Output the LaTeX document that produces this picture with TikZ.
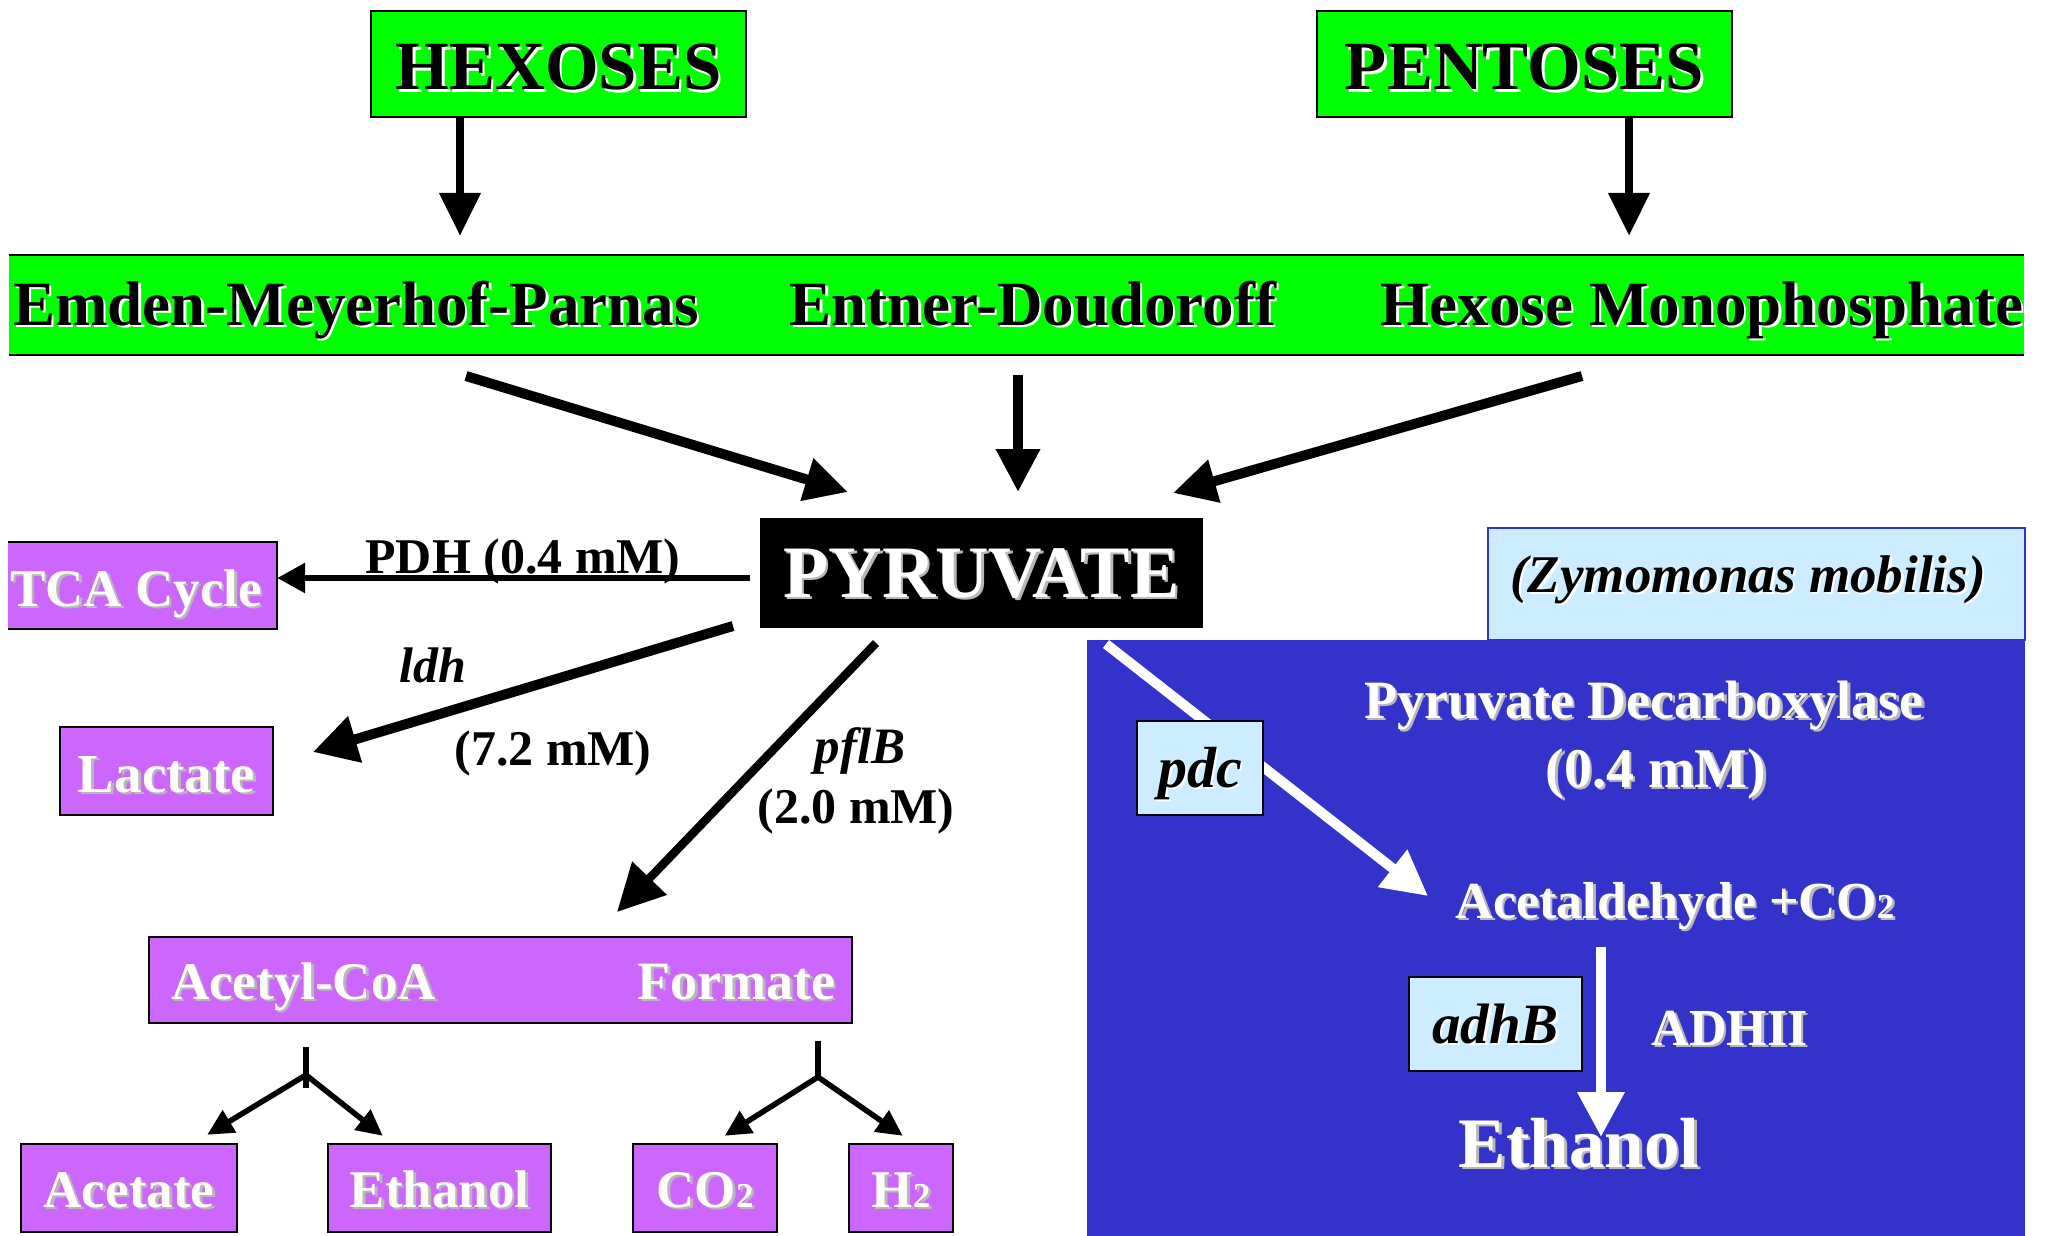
\documentclass[tikz,border=0pt]{standalone}
\usepackage{fontspec}
\setmainfont{Liberation Serif}
\usetikzlibrary{arrows.meta}
\definecolor{grn}{HTML}{00FF00}
\definecolor{pur}{HTML}{CC66FF}
\definecolor{zblue}{HTML}{3333CC}
\definecolor{lblue}{HTML}{CCECFF}
\definecolor{shg}{HTML}{B8B8B8}
\newcommand{\shd}[3]{\leavevmode\rlap{\kern2.5pt\raisebox{-2.5pt}{\color{#1}#3}}{\color{#2}#3}}
\newcommand{\bt}[1]{\shd{white}{black}{#1}}
\newcommand{\wt}[1]{\shd{shg}{white}{#1}}
\newcommand{\sdig}[2]{{\fontsize{#1}{#1}\selectfont #2}}
\tikzset{
  fs/.style={font=\fontsize{#1}{#1}\selectfont\bfseries},
  fsi/.style={font=\fontsize{#1}{#1}\selectfont\bfseries\itshape},
  txt/.style={anchor=base, inner sep=0pt},
  boxg/.style={draw=black, line width=2.5pt, fill=grn, inner sep=0pt},
  boxp/.style={draw=black, line width=2.5pt, fill=pur, inner sep=0pt},
  boxl/.style={draw=black, line width=2.5pt, fill=lblue, inner sep=0pt},
  arrH/.style={line width=8pt, -{Triangle[length=43pt,width=40pt]}},
  arrP/.style={line width=10pt, -{Triangle[length=43pt,width=42pt]}},
  arrT/.style={line width=6pt, -{Triangle[length=28pt,width=29pt]}},
  arrL/.style={line width=10pt, -{Triangle[length=44pt,width=46pt]}},
  arrF/.style={line width=8.5pt, -{Triangle[length=47pt,width=46pt]}},
  arrB/.style={line width=5.5pt, -{Triangle[length=26pt,width=25pt]}},
  arrW/.style={draw=white, line width=10pt, -{Triangle[length=45pt,width=45pt]}},
}
\begin{document}
\begin{tikzpicture}[x=1pt,y=-1pt]
\useasboundingbox (0,0) rectangle (2045,1236);

% sources
\node[boxg, minimum width=375pt, minimum height=106pt, text height=52pt, text depth=0pt, fs=69] (hex) at (558.5,64) {\bt{HEXOSES}};
\node[boxg, minimum width=415pt, minimum height=106pt, text height=52pt, text depth=0pt, fs=69] (pent) at (1524.5,64) {\bt{PENTOSES}};

% pathway band
\node[fill=grn, inner sep=0pt, minimum width=2015pt, minimum height=100pt] (band) at (1016.5,305) {};
\draw[line width=2.5pt] (band.north west) -- (band.north east) (band.south west) -- (band.south east);
\node[txt, fs=63] (emp) at (356,325) {\bt{Emden-Meyerhof-Parnas}};
\node[txt, fs=63] (ed) at (1033,325) {\bt{Entner-Doudoroff}};
\node[txt, fs=63] (hmp) at (1702,325) {\bt{Hexose Monophosphate}};

\coordinate (hx) at (460,0);
\coordinate (px) at (1629,0);
\draw[arrH, shorten >=19pt] (hex.south -| hx) -- (band.north -| hx);
\draw[arrH, shorten >=19pt] (pent.south -| px) -- (band.north -| px);

% pyruvate
\node[fill=black, inner sep=0pt, minimum width=443pt, minimum height=110pt, text height=48pt, text depth=0pt, fs=74] (pyr) at (981.5,573) {\wt{PYRUVATE}};

\coordinate (s1) at (466,376); \coordinate (t1) at (848,492);
\coordinate (s2) at (1018,375); \coordinate (t2) at (1018,492);
\coordinate (s3) at (1582,376); \coordinate (t3) at (1173,493);
\draw[arrP] (s1) -- (t1);
\draw[arrP] (s2) -- (t2);
\draw[arrP] (s3) -- (t3);

% TCA
\node[fill=pur, inner sep=0pt, minimum width=269pt, minimum height=87pt] (tca) at (142.5,585.5) {};
\draw[line width=2.5pt] (tca.north west) -- (tca.north east) -- (tca.south east) -- (tca.south west);
\node[txt, fs=53] (tcat) at (136,606) {\wt{TCA Cycle}};
\node[txt, fs=50] (pdh) at (523,573) {\bt{PDH (0.4 mM)}};
\coordinate (pt) at (750,578);
\draw[arrT] (pt) -- (tca.east |- pt);

% lactate
\node[boxp, minimum width=213pt, minimum height=88pt, text height=42pt, text depth=0pt, fs=55] (lac) at (166.5,771) {\wt{Lactate}};
\coordinate (ls) at (733,626); \coordinate (lt) at (313,752);
\draw[arrL] (ls) -- (lt);
\node[txt, fsi=50] (ldh) at (433,682) {\bt{ldh}};
\node[txt, fs=50] (ldhc) at (553,765) {\bt{(7.2 mM)}};

% pflB
\coordinate (fs) at (876,643); \coordinate (ft) at (617,912);
\draw[arrF] (fs) -- (ft);
\node[txt, fsi=51] (pfl) at (860,763) {\bt{pflB}};
\node[txt, fs=50] (pflc) at (856,823) {\bt{(2.0 mM)}};

% acetyl-CoA / formate
\node[boxp, minimum width=703pt, minimum height=86pt] (acf) at (500.5,980) {};
\node[txt, fs=53] (acoa) at (303.5,999) {\wt{Acetyl-CoA}};
\node[txt, fs=54] (form) at (736.5,999) {\wt{Formate}};

% products
\node[boxp, minimum width=216pt, minimum height=88pt, text height=38pt, text depth=0pt, fs=53] (acet) at (129,1188) {\wt{Acetate}};
\node[boxp, minimum width=223pt, minimum height=88pt, text height=38pt, text depth=0pt, fs=53] (eth) at (439.5,1188) {\wt{Ethanol}};
\node[boxp, minimum width=144pt, minimum height=88pt, text height=38pt, text depth=0pt, fs=53] (co2) at (705,1188) {\wt{CO\sdig{35}{2}}};
\node[boxp, minimum width=104pt, minimum height=88pt, text height=38pt, text depth=0pt, fs=53] (h2) at (901,1188) {\wt{H\sdig{35}{2}}};

\coordinate (b1a) at (306,1047); \coordinate (b1) at (306,1075); \coordinate (b1b) at (306,1088);
\draw[line width=5.5pt] (b1a) -- (b1b);
\draw[arrB] (b1) -- ([xshift=-31pt,yshift=8pt]acet.north east);
\draw[arrB] (b1) -- ([xshift=56pt,yshift=7pt]eth.north west);
\coordinate (b2a) at (818,1041); \coordinate (b2) at (818,1077);
\draw[line width=5.5pt] (b2a) -- (b2);
\draw[arrB] (b2) -- ([xshift=93pt,yshift=7pt]co2.north west);
\draw[arrB] (b2) -- ([xshift=55pt,yshift=7pt]h2.north west);

% Zymomonas panel
\node[draw=zblue, line width=2pt, fill=lblue, inner sep=0pt, minimum width=537pt, minimum height=112pt] (zmh) at (1756.5,584) {};
\node[fill=zblue, inner sep=0pt, minimum width=938pt, minimum height=596pt] (zm) at (1556,938) {};
\node[txt, fsi=53] (zmt) at (1748,592) {\bt{(Zymomonas mobilis)}};

\coordinate (ws) at (1106,644); \coordinate (wt) at (1428,896);
\draw[arrW] (ws) -- (wt);
\node[boxl, minimum width=126pt, minimum height=94pt, text height=38pt, text depth=0pt, fsi=58] (pdc) at (1200,768) {\bt{pdc}};
\node[txt, fs=54] (pdcn) at (1644,718) {\wt{Pyruvate Decarboxylase}};
\node[txt, fs=56] (pdcc) at (1656,787) {\wt{(0.4 mM)}};
\node[txt, fs=52] (acd) at (1675,918) {\wt{Acetaldehyde +CO\sdig{35}{2}}};

\node[boxl, minimum width=173pt, minimum height=94pt, text height=38pt, text depth=0pt, fsi=57] (adhb) at (1495.5,1024) {\bt{adhB}};
\node[txt, fs=52] (adh) at (1729.5,1045) {\wt{ADHII}};
\node[txt, fs=71] (etz) at (1579,1167) {\wt{Ethanol}};
\coordinate (vs) at (1601,947); \coordinate (vt) at (1601,1137);
\draw[arrW] (vs) -- (vt);
\end{tikzpicture}
\end{document}
